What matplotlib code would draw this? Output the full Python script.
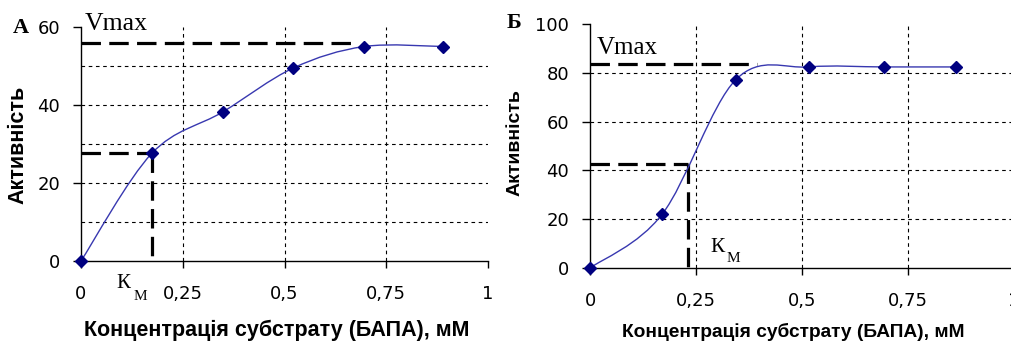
import numpy as np
import matplotlib
matplotlib.use("Agg")
import matplotlib.pyplot as plt
from matplotlib.path import Path
from matplotlib.patches import PathPatch

plt.rcParams["lines.scale_dashes"] = False

# Data
conc_a = [0, 0.174, 0.348, 0.522, 0.696, 0.89]
act_a = [0, 27.6, 38.2, 49.5, 55.0, 55.0]
vmax_a, vmax_a_end = 56, 0.68
km_a, half_a = 0.174, 27.6

conc_b = [0, 0.17, 0.344, 0.517, 0.693, 0.863]
act_b = [0, 22.0, 77.2, 82.4, 82.4, 82.4]
vmax_b, vmax_b_end = 83.6, 0.395
km_b, half_b = 0.231, 42.6

xticks = [0, 0.25, 0.5, 0.75, 1]
xticklabels = ["0", "0,25", "0,5", "0,75", "1"]

W, H = 1011, 344
fig = plt.figure(figsize=(W / 100, H / 100), dpi=100)


def smooth_path(xs, ys):
    # Excel-like smoothed line: cubic Bezier through the points
    pts = np.column_stack([xs, ys]).astype(float)
    n = len(pts)
    verts = [pts[0]]
    codes = [Path.MOVETO]
    for i in range(n - 1):
        p0 = pts[max(i - 1, 0)]
        p1 = pts[i]
        p2 = pts[i + 1]
        p3 = pts[min(i + 2, n - 1)]
        verts += [p1 + (p2 - p0) / 6, p2 - (p3 - p1) / 6, p2]
        codes += [Path.CURVE4] * 3
    return Path(verts, codes)


def panel(rect, xs, ys, ymax, ystep, gridstep, vmax, vmax_end, km, half):
    ax = fig.add_axes(rect)
    ax.set_xlim(0, 1)
    ax.set_ylim(0, ymax)
    for s in ["top", "right"]:
        ax.spines[s].set_visible(False)
    for s in ["left", "bottom"]:
        ax.spines[s].set_linewidth(1.0)
        ax.spines[s].set_color("black")
    ax.set_xticks(xticks)
    ax.set_xticklabels(xticklabels)
    ax.set_yticks(np.arange(0, ymax + 1, ystep))
    ax.tick_params(axis="y", length=6, width=1, pad=9, labelsize=13)
    ax.tick_params(axis="x", length=5, width=1, pad=12, labelsize=13)
    for v in np.arange(gridstep, ymax, gridstep):
        ax.axhline(v, color="black", lw=0.8, ls=(0, (2.6, 2.6)), zorder=1)
    for v in [0.25, 0.5, 0.75]:
        ax.axvline(v, color="black", lw=0.8, ls=(0, (2.6, 2.6)), zorder=1)

    dash = (0, (14, 6))
    ax.plot([0, vmax_end], [vmax, vmax], color="black", lw=2.3, ls=dash,
            zorder=3, clip_on=False)
    ax.plot([0, km], [half, half], color="black", lw=2.3, ls=dash, zorder=3,
            clip_on=False)
    ax.plot([km, km], [half, 0], color="black", lw=2.3, ls=dash, zorder=3,
            clip_on=False)

    ax.add_patch(PathPatch(smooth_path(xs, ys), fill=False, edgecolor="#3838b0",
                           lw=1.0, zorder=4, clip_on=False))
    ax.plot(xs, ys, ls="none", marker="D", ms=6.5, color="#000080", zorder=5,
            clip_on=False)
    return ax


ax1 = panel([81 / W, (H - 261) / H, 407 / W, 234 / H], conc_a, act_a,
            60, 20, 10, vmax_a, vmax_a_end, km_a, half_a)
ax2 = panel([590 / W, (H - 268) / H, 424 / W, 244 / H], conc_b, act_b,
            100, 20, 20, vmax_b, vmax_b_end, km_b, half_b)

serif = "Liberation Serif"
ax1.text(0.01, 59.2, "Vmax", family=serif, fontsize=18.5, va="baseline",
         clip_on=False)
ax2.text(0.017, 87.7, "Vmax", family=serif, fontsize=18, va="baseline",
         clip_on=False)
ax1.text(0.088, -6.9, "К", family=serif, fontsize=15, va="baseline",
         clip_on=False)
ax1.text(0.128, -10.0, "М", family=serif, fontsize=11, va="baseline",
         clip_on=False)
ax2.text(0.283, 6.6, "К", family=serif, fontsize=15.5, va="baseline",
         clip_on=False)
ax2.text(0.323, 2.5, "М", family=serif, fontsize=11, va="baseline",
         clip_on=False)

fig.text(13 / W, 1 - 33 / H, "А", family=serif, fontsize=16,
         fontweight="bold", va="baseline")
fig.text(507 / W, 1 - 28 / H, "Б", family=serif, fontsize=16,
         fontweight="bold", va="baseline")

lab = dict(family="Liberation Sans", fontweight="bold")
fig.text(18 / W, 1 - 145 / H, "Активність", rotation=90, ha="center",
         va="center", fontsize=15.5, **lab)
fig.text(515 / W, 1 - 143 / H, "Активність", rotation=90, ha="center",
         va="center", fontsize=14, **lab)
fig.text(277 / W, 1 - 330 / H, "Концентрація субстрату (БАПА), мМ",
         ha="center", va="center", fontsize=15.5, **lab)
fig.text(793 / W, 1 - 332 / H, "Концентрація субстрату (БАПА), мМ",
         ha="center", va="center", fontsize=13.8, **lab)

fig.savefig("out.png", dpi=100)
